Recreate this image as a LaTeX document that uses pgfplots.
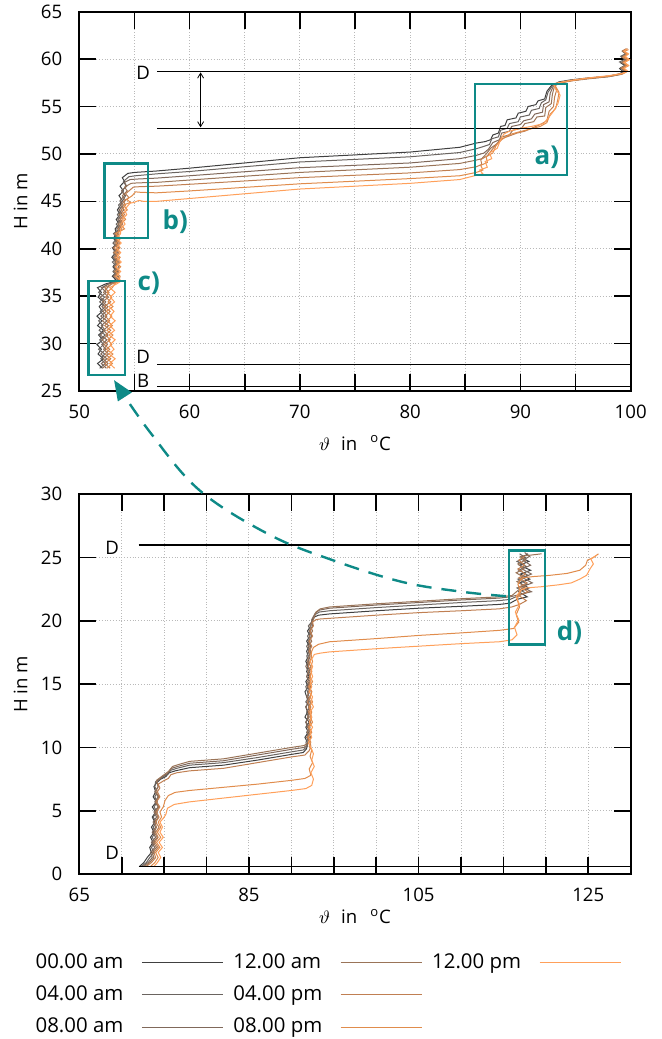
\documentclass[border=0pt]{standalone}
\usepackage{fontspec}
\setmainfont{Open Sans}
\usepackage{pgfplots}
\usepackage{pgfplotstable}
\pgfplotsset{compat=1.18}
\usetikzlibrary{arrows.meta}

\definecolor{c1}{HTML}{404040}
\definecolor{c2}{HTML}{6A6460}
\definecolor{c3}{HTML}{80685A}
\definecolor{c4}{HTML}{9A7458}
\definecolor{c5}{HTML}{C07F52}
\definecolor{c6}{HTML}{E08C4C}
\definecolor{c7}{HTML}{FFA05A}
\definecolor{tl}{HTML}{0E8A87}

\pgfplotstableread{
y a b c d e f g
27.4 52.10 51.85 52.45 52.10 52.80 52.50 53.20
27.9 51.65 52.35 52.00 52.60 52.30 53.00 52.75
28.4 52.20 51.95 52.50 52.15 52.85 52.55 53.25
28.9 51.70 52.30 51.95 52.65 52.35 53.05 52.70
29.4 52.00 51.75 52.40 52.20 52.75 52.45 53.15
29.9 51.60 52.20 52.05 52.55 52.25 52.95 52.80
30.4 52.15 51.85 52.50 52.05 52.80 52.60 53.25
30.9 51.75 52.35 51.90 52.60 52.40 53.05 52.70
31.4 52.20 51.80 52.35 52.20 52.85 52.50 53.20
31.9 51.65 52.15 52.00 52.65 52.30 53.00 52.75
32.4 52.05 51.75 52.50 52.10 52.75 52.55 53.25
32.9 51.60 52.25 51.95 52.50 52.35 52.95 52.80
33.4 52.10 51.90 52.45 52.15 52.80 52.45 53.15
33.9 51.80 52.35 52.05 52.60 52.25 53.05 52.70
34.4 52.20 51.85 52.40 52.10 52.85 52.60 53.20
34.9 51.70 52.30 51.90 52.65 52.40 52.95 52.80
35.4 52.00 51.75 52.45 52.20 52.70 52.50 53.25
35.9 51.65 52.15 52.00 52.55 52.30 53.00 52.75
36.3 52.40 52.60 52.70 52.90 53.00 53.20 53.40
36.6 53.40 53.50 53.60 53.50 53.70 53.60 53.80
37.1 53.00 53.45 53.10 53.55 53.20 53.70 53.35
37.6 53.40 53.05 53.50 53.15 53.60 53.30 53.75
38.1 53.05 53.40 53.15 53.60 53.25 53.75 53.30
38.6 53.35 53.00 53.55 53.20 53.65 53.35 53.80
39.1 52.95 53.50 53.10 53.50 53.20 53.70 53.40
39.6 53.30 53.10 53.45 53.10 53.60 53.25 53.75
40.1 53.00 53.45 53.05 53.60 53.15 53.70 53.35
40.6 53.45 53.05 53.50 53.20 53.65 53.35 53.80
41.1 53.10 53.40 53.20 53.55 53.30 53.75 53.40
41.6 53.35 53.10 53.50 53.20 53.60 53.30 53.75
42.1 53.25 53.65 53.40 53.85 53.55 54.10 53.75
42.6 53.60 53.35 53.80 53.50 53.95 53.70 54.15
43.1 53.35 53.75 53.50 53.95 53.70 54.20 53.90
43.6 53.70 53.45 53.90 53.60 54.10 53.85 54.30
44.1 53.45 53.85 53.60 54.05 53.80 54.35 54.10
44.6 53.75 53.55 54.00 53.75 54.20 54.00 54.45
}\TopV

\pgfplotstableread{
y a b c d e f g
0.6 72.1 72.3 72.5 72.7 72.9 73.4 73.8
0.9 72.6 72.9 73.1 73.3 73.5 73.9 74.2
1.3 73.0 73.3 73.6 73.8 74.0 74.3 74.6
1.7 73.5 73.8 73.4 73.6 73.8 74.0 74.3
2.1 73.3 73.5 73.9 74.1 74.3 74.5 74.8
2.5 73.7 73.9 73.5 73.7 73.9 74.1 74.4
2.9 73.4 73.6 74.0 74.2 74.3 74.6 74.9
3.3 73.8 74.0 73.6 73.8 74.0 74.2 74.5
3.7 73.5 73.7 74.0 74.1 74.4 74.6 74.8
4.1 73.9 74.1 73.7 73.9 74.0 74.3 74.5
}\BotA

\pgfplotstableread{
y a b c d e f g
10.4 91.9 91.7 92.1 92.0 92.2 92.3 92.0
10.8 91.6 92.1 91.8 92.3 91.9 92.0 92.4
11.2 92.0 91.8 92.2 91.9 92.3 92.4 92.2
11.6 91.7 92.2 91.9 92.1 92.0 92.1 92.5
12.0 92.1 91.7 91.7 92.3 92.2 92.5 92.1
12.4 91.6 92.0 92.1 91.9 92.4 92.2 92.4
12.8 91.9 91.8 92.0 92.2 92.0 92.4 92.2
13.2 91.7 92.2 91.7 92.0 92.3 92.1 92.6
13.6 92.1 91.7 92.0 92.3 91.9 92.5 92.3
14.0 91.8 92.1 91.8 91.9 92.2 92.2 92.5
14.4 91.6 91.9 92.2 92.0 92.4 92.4 92.1
14.8 92.0 91.7 91.9 92.3 92.0 92.1 92.4
15.2 91.7 92.1 92.2 91.9 92.3 92.5 92.2
15.6 92.1 91.8 91.8 92.2 92.1 92.2 92.5
16.0 91.8 92.2 92.0 92.0 92.4 92.4 92.3
16.4 92.0 91.9 91.7 92.3 92.0 92.3 92.5
16.8 91.7 92.1 92.0 91.9 92.2 92.5 92.2
17.2 92.0 91.8 92.2 92.1 92.4 92.3 92.6
}\BotB

\pgfplotsset{
  myaxis/.style={
    scale only axis, width=275.7pt,
    axis line style={line width=0.9pt},
    tick align=inside, major tick length=8.5pt,
    tick style={black, line width=0.8pt},
    grid=major, major grid style={gray!55, densely dotted, line width=0.5pt},
    tick label style={font=\fontsize{9.3}{11}\selectfont},
    yticklabel style={xshift=-5pt},
    xticklabel style={yshift=-3.7pt},
    label style={font=\fontsize{9.3}{11}\selectfont},
  },
  s1/.style={color=c1, line width=0.5pt, forget plot},
  s2/.style={color=c2, line width=0.5pt, forget plot},
  s3/.style={color=c3, line width=0.5pt, forget plot},
  s4/.style={color=c4, line width=0.5pt, forget plot},
  s5/.style={color=c5, line width=0.5pt, forget plot},
  s6/.style={color=c6, line width=0.5pt, forget plot},
  s7/.style={color=c7, line width=0.5pt, forget plot},
}

\begin{document}
\begin{tikzpicture}
\useasboundingbox (0,0) rectangle (331pt,-519.5pt);

% ---------------- top panel ----------------
\begin{axis}[myaxis, at={(39.65pt,-5.85pt)}, anchor=north west, height=189.65pt,
  xmin=50, xmax=100, ymin=25, ymax=65,
  xtick={50,55,...,100}, xticklabels={50,,60,,70,,80,,90,,100},
  ytick={25,30,...,65}, yticklabels={25,30,35,40,45,50,55,60,65},
  xlabel={$\vartheta$\hspace{0.6em}in\hspace{0.7em}\textsuperscript{o}C},
  xlabel style={at={(axis description cs:0.5,-0.1371)}, anchor=center},
  ylabel={H in m},
  ylabel style={at={(axis description cs:-0.1066,0.5)}, anchor=center},
]
\addplot[s1] table[x=a,y=y]{\TopV};
\addplot[s1] coordinates {(53.75,44.6) (53.9,45.1) (53.6,45.6) (54.0,46.1) (53.7,46.6) (54.1,47.1) (53.9,47.5) (54.4,47.95) (55.0,48.05) (57,48.2) (60,48.5) (70,49.6) (80,50.2) (84.5,50.7) (86.0,51.15) (86.8,51.3) (87.3,51.5) (87.5,52.0) (88.0,52.2) (88.2,52.9) (88.6,53.0) (88.8,53.6) (89.6,53.8) (89.8,54.3) (90.5,54.5) (90.7,55.0) (91.4,55.2) (91.6,55.6) (92.2,55.8) (92.4,56.6) (92.8,57.2) (93.5,57.6) (94.5,57.8) (96,58.0) (98,58.2) (99.0,58.45) (99.3,58.7) (99.0,59.0) (99.5,59.3) (99.1,59.6) (99.6,59.9) (99.2,60.2) (99.7,60.5) (99.3,60.8) (99.5,61.0)};
\addplot[s2] table[x=b,y=y]{\TopV};
\addplot[s2] coordinates {(53.55,44.6) (53.95,45.1) (54.2,45.6) (53.85,46.1) (54.25,46.6) (54.0,47.1) (54.5,47.6) (55.1,47.7) (57,47.9) (60,48.15) (70,49.15) (80,49.7) (84.5,50.15) (86,50.55) (86.7,50.8) (87.2,51.0) (87.4,51.6) (88.0,51.8) (88.2,52.5) (88.8,52.7) (89.0,53.2) (89.8,53.4) (90.0,53.9) (90.8,54.1) (91.0,54.6) (91.7,54.8) (91.9,55.4) (92.3,55.7) (92.5,56.5) (92.9,57.2) (93.6,57.55) (94.5,57.75) (96,57.95) (98,58.15) (99.1,58.4) (99.4,58.8) (99.1,59.1) (99.6,59.4) (99.0,59.7) (99.5,60.0) (99.1,60.3) (99.6,60.6) (99.2,60.9)};
\addplot[s3] table[x=c,y=y]{\TopV};
\addplot[s3] coordinates {(54.0,44.6) (53.7,45.1) (54.1,45.6) (53.85,46.1) (54.3,46.6) (54.1,47.0) (54.6,47.3) (55.2,47.35) (57,47.45) (60,47.7) (70,48.55) (80,49.05) (84.5,49.5) (86,49.85) (86.7,50.1) (87.1,50.5) (87.5,51.2) (88.1,51.5) (88.3,52.2) (89.0,52.4) (89.2,52.9) (90.0,53.1) (90.3,53.5) (91.0,53.7) (91.3,54.2) (92.0,54.4) (92.1,55.2) (92.6,55.5) (92.7,56.4) (93.0,57.2) (93.6,57.5) (94.6,57.75) (96,57.95) (98,58.2) (99.2,58.45) (99.6,58.7) (99.2,59.0) (99.7,59.3) (99.3,59.6) (99.7,59.9) (99.2,60.2) (99.6,60.5) (99.3,60.8) (99.7,61.1)};
\addplot[s4] table[x=d,y=y]{\TopV};
\addplot[s4] coordinates {(53.75,44.6) (54.2,45.1) (53.9,45.6) (54.35,46.1) (54.1,46.5) (54.7,46.9) (55.3,46.95) (57,47.0) (60,47.25) (70,48.05) (80,48.6) (84.5,49.0) (86,49.35) (86.5,49.5) (86.9,50.0) (87.3,50.6) (87.9,51.1) (88.3,51.8) (89.0,52.0) (89.3,52.5) (90.1,52.7) (90.4,53.2) (91.2,53.4) (91.5,53.9) (92.2,54.0) (92.3,54.9) (92.8,55.3) (92.9,56.3) (93.1,57.2) (93.7,57.5) (94.6,57.7) (96,57.9) (98,58.15) (99.2,58.4) (99.5,58.75) (99.1,59.05) (99.6,59.35) (99.2,59.65) (99.7,59.95) (99.3,60.25) (99.6,60.55) (99.2,60.85)};
\addplot[s5] table[x=e,y=y]{\TopV};
\addplot[s5] coordinates {(54.2,44.6) (54.0,45.0) (54.5,45.4) (54.2,45.8) (54.6,46.2) (54.9,46.5) (55.5,46.55) (57,46.6) (60,46.8) (70,47.5) (80,48.0) (84.5,48.35) (86,48.65) (86.5,48.9) (86.4,49.4) (87.0,49.8) (87.4,50.4) (87.8,51.0) (88.3,51.6) (89.0,51.9) (89.7,52.2) (90.4,52.4) (91.2,52.8) (91.8,53.1) (92.4,53.5) (92.6,54.5) (93.0,55.0) (93.1,56.0) (93.3,56.8) (93.0,57.3) (93.7,57.55) (94.7,57.75) (96,57.95) (98,58.2) (99.3,58.5) (99.6,58.8) (99.2,59.1) (99.7,59.4) (99.3,59.7) (99.8,60.0) (99.4,60.3) (99.7,60.6) (99.3,60.9) (99.6,61.1)};
\addplot[s6] table[x=f,y=y]{\TopV};
\addplot[s6] coordinates {(54.0,44.6) (54.65,44.9) (54.3,45.2) (54.8,45.6) (55.1,46.0) (55.6,45.95) (57,45.9) (60,46.1) (70,46.85) (80,47.4) (84.5,47.7) (86,48.05) (86.6,48.3) (86.4,48.8) (87.0,49.1) (86.9,49.7) (87.5,50.1) (87.8,50.9) (88.3,51.5) (88.9,52.0) (89.8,52.3) (90.8,52.6) (91.8,52.9) (92.4,53.3) (92.7,54.2) (93.2,54.8) (93.4,55.8) (93.5,56.5) (93.1,57.3) (93.8,57.55) (94.8,57.75) (96,57.95) (98,58.2) (99.3,58.45) (99.7,58.7) (99.3,59.0) (99.8,59.3) (99.4,59.6) (99.8,59.9) (99.3,60.2) (99.7,60.5) (99.4,60.8) (99.8,61.0)};
\addplot[s7] table[x=g,y=y]{\TopV};
\addplot[s7] coordinates {(54.45,44.6) (54.6,44.8) (55.0,44.9) (55.4,45.1) (55.8,45.0) (57,45.0) (60,45.3) (70,46.3) (80,46.9) (84.5,47.3) (86,47.75) (86.6,47.9) (86.3,48.3) (87.0,48.6) (86.8,49.2) (87.4,49.5) (87.2,50.1) (87.9,50.6) (88.2,51.5) (88.5,52.1) (89.0,52.4) (90.0,52.7) (91.0,52.9) (92.1,53.2) (92.6,53.9) (93.0,54.5) (93.4,55.3) (93.6,56.2) (93.2,56.8) (93.0,57.4) (93.8,57.6) (94.8,57.8) (96,58.0) (98,58.25) (99.3,58.5) (99.7,58.75) (99.4,59.05) (99.8,59.35) (99.4,59.65) (99.9,59.95) (99.5,60.25) (99.8,60.55) (99.4,60.85) (99.7,61.1)};

% reference lines
\draw[black, line width=0.6pt] (axis cs:57.07,58.7) -- (axis cs:100,58.7);
\draw[black, line width=0.6pt] (axis cs:57.07,52.7) -- (axis cs:100,52.7);
\draw[black, line width=0.6pt] (axis cs:57.07,27.8) -- (axis cs:100,27.8);
\draw[black, line width=0.6pt] (axis cs:57.07,25.5) -- (axis cs:100,25.5);
\draw[black, line width=0.4pt, {Straight Barb[length=2.5pt,width=3pt]}-{Straight Barb[length=2.5pt,width=3pt]}] (axis cs:61,58.6) -- (axis cs:61,52.8);
\node[font=\fontsize{9.3}{11}\selectfont] at (axis cs:55.8,58.55) {D};
\node[font=\fontsize{9.3}{11}\selectfont] at (axis cs:55.8,28.65) {D};
\node[font=\fontsize{9.3}{11}\selectfont] at (axis cs:55.8,26.1) {B};
% boxes
\draw[tl, line width=1.2pt] (axis cs:85.9,47.77) rectangle (axis cs:94.24,57.4);
\draw[tl, line width=1.2pt] (axis cs:52.3,41.13) rectangle (axis cs:56.23,49.0);
\draw[tl, line width=1.2pt] (axis cs:50.85,26.7) rectangle (axis cs:54.17,36.6);
\node[tl, font=\bfseries\fontsize{13}{15}\selectfont] at (axis cs:92.4,49.7) {a)};
\node[tl, font=\bfseries\fontsize{13}{15}\selectfont] at (axis cs:58.7,42.85) {b)};
\node[tl, font=\bfseries\fontsize{13}{15}\selectfont] at (axis cs:56.3,36.4) {c)};
\coordinate (tip) at (axis cs:53.15,26.15);
\coordinate (p1) at (axis cs:56.41,20.66);
\end{axis}

% ---------------- bottom panel ----------------
\begin{axis}[myaxis, at={(39.65pt,-247.15pt)}, anchor=north west, height=189.85pt,
  xmin=65, xmax=130, ymin=0, ymax=30,
  xtick={65,70,...,130}, xticklabels={65,,,,85,,,,105,,,,125,},
  ytick={0,5,...,30}, yticklabels={0,5,10,15,20,25,30},
  xlabel={$\vartheta$\hspace{0.6em}in\hspace{0.7em}\textsuperscript{o}C},
  xlabel style={at={(axis description cs:0.5,-0.1122)}, anchor=center},
  ylabel={H in m},
  ylabel style={at={(axis description cs:-0.1066,0.5)}, anchor=center},
  legend style={draw=none, fill=none, at={(axis description cs:-0.098,-0.188)}, anchor=north west,
    font=\fontsize{10.2}{12}\selectfont, legend columns=3, row sep=3.2pt,
    /tikz/every odd column/.append style={column sep=7pt},
    /tikz/every even column/.append style={column sep=3pt}},
  legend cell align=left,
  legend plot pos=right,
  legend image code/.code={\draw[#1] (0pt,0pt) -- (40.5pt,0pt);},
]
\addplot[s1] table[x=a,y=y]{\BotA};
\addplot[s1] coordinates {(73.9,4.1) (73.6,4.5) (74.0,4.9) (73.6,5.3) (74.1,5.7) (73.7,6.1) (74.0,6.5) (73.8,6.9) (74.1,7.2) (74.6,7.5) (75.2,7.7) (75.6,8.0) (76.3,8.15) (78,8.4) (82,8.6) (86,9.0) (90,9.45) (91.4,9.6) (91.8,9.9) (91.9,10.4)};
\addplot[s1] table[x=a,y=y]{\BotB};
\addplot[s1] coordinates {(92.0,17.2) (91.8,17.6) (92.1,18.0) (91.8,18.4) (92.2,18.8) (91.9,19.2) (92.3,19.6) (92.4,20.0) (92.7,20.3) (93.2,20.45) (94.5,20.55) (100,20.8) (105,21.0) (110,21.15) (114.5,21.3) (115.8,21.4) (116.6,21.7) (117.8,21.9) (116.8,22.3) (118.0,22.6) (116.9,23.0) (118.1,23.3) (117.0,23.7) (118.2,24.0) (116.9,24.4) (118.0,24.7) (117.1,25.0) (117.9,25.3)};
\addplot[s2] table[x=b,y=y]{\BotA};
\addplot[s2] coordinates {(74.1,4.1) (73.7,4.5) (74.2,4.9) (73.8,5.3) (74.2,5.7) (73.9,6.1) (74.2,6.5) (73.9,6.9) (74.0,7.3) (74.7,7.6) (75.3,7.85) (75.8,8.2) (76.5,8.35) (78,8.6) (82,8.8) (86,9.2) (90,9.65) (91.4,9.8) (91.9,10.1) (91.7,10.4)};
\addplot[s2] table[x=b,y=y]{\BotB};
\addplot[s2] coordinates {(91.8,17.2) (92.1,17.6) (91.8,18.0) (92.2,18.4) (91.9,18.8) (92.3,19.2) (92.0,19.6) (92.5,20.0) (92.8,20.5) (93.3,20.7) (94.5,20.8) (100,21.05) (105,21.25) (110,21.45) (114.5,21.6) (115.8,21.7) (116.8,22.0) (117.6,22.2) (116.6,22.6) (117.8,22.9) (116.7,23.3) (117.9,23.6) (116.8,24.0) (117.7,24.3) (116.6,24.7) (117.6,25.0) (116.9,25.3)};
\addplot[s3] table[x=c,y=y]{\BotA};
\addplot[s3] coordinates {(73.7,4.1) (74.1,4.5) (73.8,4.9) (74.3,5.3) (73.9,5.7) (74.3,6.1) (73.9,6.5) (74.3,6.9) (74.2,7.3) (74.8,7.7) (75.4,7.95) (75.9,8.35) (76.6,8.5) (78,8.75) (82,8.95) (86,9.4) (90,9.85) (91.5,10.0) (92.0,10.3) (92.1,10.4)};
\addplot[s3] table[x=c,y=y]{\BotB};
\addplot[s3] coordinates {(92.2,17.2) (92.0,17.6) (92.3,18.0) (92.0,18.4) (92.4,18.8) (92.1,19.2) (92.5,19.6) (92.4,20.1) (92.8,20.6) (93.3,20.85) (94.5,21.0) (100,21.25) (105,21.45) (110,21.65) (114.5,21.8) (115.8,21.9) (117.0,22.1) (118.3,22.3) (117.2,22.7) (118.4,23.0) (117.3,23.4) (118.3,23.7) (117.2,24.1) (118.2,24.4) (117.3,24.8) (118.1,25.1) (117.5,25.4)};
\addplot[s4] table[x=d,y=y]{\BotA};
\addplot[s4] coordinates {(73.9,4.1) (74.3,4.5) (73.9,4.9) (74.4,5.3) (74.0,5.7) (74.4,6.1) (74.0,6.5) (74.3,6.9) (74.1,7.4) (74.9,7.8) (75.5,8.1) (76.0,8.5) (76.7,8.65) (78,8.9) (82,9.1) (86,9.55) (90,10.0) (91.5,10.15) (91.8,10.3) (92.0,10.4)};
\addplot[s4] table[x=d,y=y]{\BotB};
\addplot[s4] coordinates {(92.1,17.2) (92.3,17.6) (92.0,18.0) (92.4,18.4) (92.1,18.8) (92.5,19.2) (92.2,19.6) (92.6,20.1) (92.9,20.7) (93.4,20.95) (94.5,21.1) (100,21.35) (105,21.55) (110,21.75) (114.5,21.9) (116.0,22.0) (116.7,22.4) (117.6,22.7) (116.6,23.1) (117.5,23.4) (116.5,23.8) (117.4,24.1) (116.7,24.5) (117.6,24.8) (117.0,25.1) (119.5,25.3)};
\addplot[s5] table[x=e,y=y]{\BotA};
\addplot[s5] coordinates {(74.0,4.1) (74.4,4.5) (74.1,4.9) (74.5,5.3) (74.1,5.7) (74.5,6.1) (74.2,6.5) (74.5,6.8) (74.3,7.1) (74.9,7.35) (75.5,7.55) (75.8,7.85) (76.5,8.0) (78,8.15) (82,8.35) (86,8.8) (90,9.25) (91.6,9.4) (92.1,9.75) (92.3,10.1) (92.2,10.4)};
\addplot[s5] table[x=e,y=y]{\BotB};
\addplot[s5] coordinates {(92.4,17.2) (92.1,17.6) (92.4,18.0) (92.1,18.4) (92.5,18.8) (92.2,19.2) (92.6,19.6) (92.5,19.9) (92.9,20.1) (93.4,20.15) (94.5,20.2) (100,20.45) (105,20.65) (110,20.8) (114.5,20.95) (116.0,21.1) (116.9,21.3) (117.7,21.6) (116.8,22.0) (117.9,22.3) (116.9,22.7) (117.8,23.0) (116.8,23.4) (117.6,23.7) (116.7,24.1) (117.5,24.4) (116.8,24.8) (117.5,25.1)};
\addplot[s6] table[x=f,y=y]{\BotA};
\addplot[s6] coordinates {(74.3,4.1) (74.7,4.5) (74.5,4.9) (74.9,5.3) (75.1,5.8) (75.5,6.2) (76.3,6.45) (78,6.6) (82,6.85) (86,7.1) (90,7.4) (91.6,7.55) (92.3,7.8) (92.1,8.3) (92.5,8.8) (92.2,9.3) (92.4,9.8) (92.1,10.1) (92.3,10.4)};
\addplot[s6] table[x=f,y=y]{\BotB};
\addplot[s6] coordinates {(92.3,17.2) (92.4,17.6) (92.6,17.9) (93.2,18.15) (94.5,18.35) (100,18.6) (105,18.85) (110,19.05) (114.5,19.25) (116.2,19.4) (116.8,19.9) (116.5,20.5) (116.9,21.1) (116.6,21.7) (117.0,22.3) (116.7,22.9) (117.2,23.4) (118.5,23.5) (120.5,23.6) (122.5,23.75) (124.0,24.0) (124.7,24.4) (124.9,24.8) (125.6,25.0) (126.2,25.3)};
\addplot[s7] table[x=g,y=y]{\BotA};
\addplot[s7] coordinates {(74.5,4.1) (74.9,4.4) (75.2,4.7) (75.4,5.2) (76.2,5.5) (78,5.7) (82,6.0) (86,6.3) (90,6.6) (91.7,6.75) (92.4,7.0) (92.6,7.5) (92.3,8.0) (92.7,8.5) (92.4,9.0) (92.6,9.5) (92.3,10.0) (92.0,10.4)};
\addplot[s7] table[x=g,y=y]{\BotB};
\addplot[s7] coordinates {(92.6,17.2) (92.7,17.35) (93.4,17.45) (94.5,17.55) (100,17.8) (105,18.0) (110,18.2) (114.5,18.35) (116.0,18.5) (116.6,18.9) (116.3,19.5) (116.8,20.1) (116.4,20.7) (116.9,21.3) (116.5,21.9) (117.0,22.4) (117.6,22.6) (119.5,22.7) (121.5,22.85) (123.0,23.0) (124.0,23.3) (124.8,23.6) (125.2,24.1) (125.6,24.5) (125.3,24.9) (126.0,25.2)};

% legend (row-major order)
\addlegendimage{c1, line width=0.5pt}\addlegendentry{00.00 am}
\addlegendimage{c4, line width=0.5pt}\addlegendentry{12.00 am}
\addlegendimage{c7, line width=0.5pt}\addlegendentry{12.00 pm}
\addlegendimage{c2, line width=0.5pt}\addlegendentry{04.00 am}
\addlegendimage{c5, line width=0.5pt}\addlegendentry{04.00 pm}
\addlegendimage{empty legend}\addlegendentry{}
\addlegendimage{c3, line width=0.5pt}\addlegendentry{08.00 am}
\addlegendimage{c6, line width=0.5pt}\addlegendentry{08.00 pm}

\draw[black, line width=0.6pt] (axis cs:72,26) -- (axis cs:130,26);
\draw[black, line width=0.6pt] (axis cs:72,0.6) -- (axis cs:130,0.6);
\node[font=\fontsize{9.3}{11}\selectfont] at (axis cs:68.87,25.8) {D};
\node[font=\fontsize{9.3}{11}\selectfont] at (axis cs:68.87,1.66) {D};
\draw[tl, line width=1.2pt] (axis cs:115.67,18.14) rectangle (axis cs:119.9,25.57);
\node[tl, font=\bfseries\fontsize{13}{15}\selectfont] at (axis cs:122.8,19.1) {d)};
\coordinate (q1) at (axis cs:79.2,30.3);
\coordinate (q2) at (axis cs:87.44,26.8);
\coordinate (q3) at (axis cs:94.85,24.8);
\coordinate (q4) at (axis cs:103.1,23.07);
\coordinate (q5) at (axis cs:110.1,22.3);
\coordinate (q6) at (axis cs:115.3,21.95);
\end{axis}

\draw[tl, line width=1.2pt, dash pattern=on 7.5pt off 5pt, -{Triangle[length=10pt,width=8pt]}]
  plot[smooth, tension=0.6] coordinates {(q6) (q5) (q4) (q3) (q2) (q1) (p1) (tip)};
\end{tikzpicture}
\end{document}
